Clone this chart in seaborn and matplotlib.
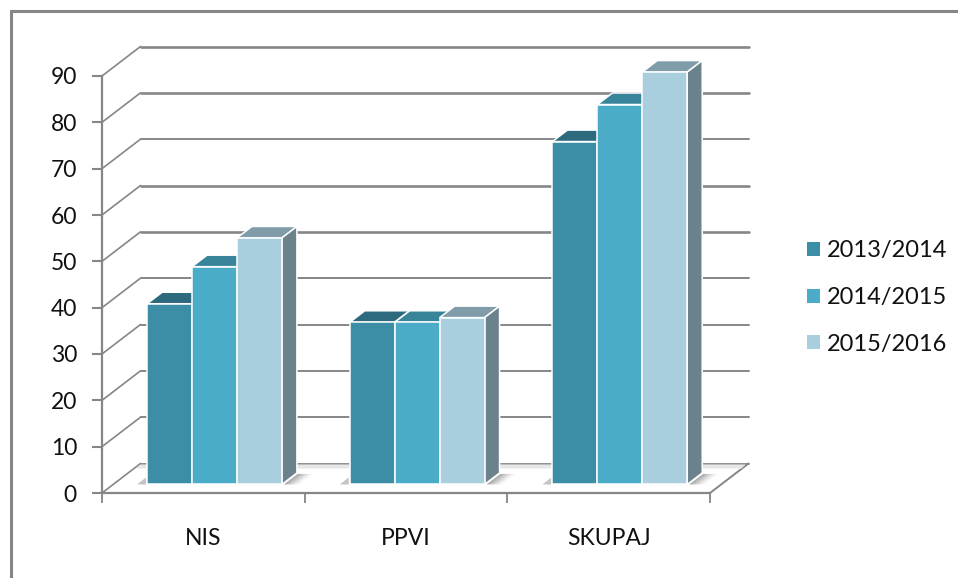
import matplotlib
matplotlib.use("Agg")
import matplotlib.pyplot as plt
from matplotlib.lines import Line2D
from matplotlib.patches import Polygon, Patch
from matplotlib.transforms import Affine2D, IdentityTransform
import pandas as pd
import seaborn as sns

categories = ["NIS", "PPVI", "SKUPAJ"]
seasons = ["2013/2014", "2014/2015", "2015/2016"]
values_2013 = [39, 35, 74]
values_2014 = [47, 35, 82]
values_2015 = [53.2, 36, 89]
front_colors = ["#3c8da6", "#4bacc8", "#a9cedd"]
top_colors = ["#2d6a7d", "#38849b", "#7f9ca8"]
side_colors = ["#2a6072", "#367a8f", "#6b818c"]
y_ticks = list(range(0, 100, 10))

GREY = "#868686"
W, H = 958, 578
DPI = 100
DEPTH = (38.5, 29.5)          # wall depth, pixels
BAR_START = 0.29              # fraction of depth where bars begin
BAR_DEPTH = 0.39              # fraction of depth bars occupy

sns.set_style("white")
plt.rcParams["font.family"] = ["Lato", "DejaVu Sans"]

df = pd.DataFrame({
    "cat": categories * 3,
    "season": sum([[s] * 3 for s in seasons], []),
    "val": values_2013 + values_2014 + values_2015,
})

fig = plt.figure(figsize=(W / DPI, H / DPI), dpi=DPI, facecolor="white")
ax = fig.add_axes([102 / W, (H - 493) / H, 608 / W, 417 / H])
ax.patch.set_alpha(0)

sns.barplot(data=df, x="cat", y="val", hue="season", hue_order=seasons,
            palette=front_colors, saturation=1, width=0.665, gap=0,
            edgecolor="white", linewidth=1.1, ax=ax, legend=False)
bars = sorted(ax.patches, key=lambda p: p.get_x())

ax.set_xlim(-0.5, 2.5)
ax.set_ylim(0, 90)
ax.set_xlabel("")
ax.set_ylabel("")
sns.despine(ax=ax)
for side in ("left", "bottom"):
    ax.spines[side].set_color(GREY)
    ax.spines[side].set_linewidth(1.6)

ax.set_yticks(y_ticks)
ax.tick_params(axis="y", length=7, width=1.5, color=GREY, pad=11, labelsize=16.5,
               left=True, labelcolor="#111111")
ax.set_xticks(range(3), categories)
ax.set_xticks([-0.5, 0.5, 1.5, 2.5], minor=True)
ax.tick_params(axis="x", which="major", length=0, pad=25, labelsize=16.5,
               labelcolor="#111111")
ax.tick_params(axis="x", which="minor", length=7, width=1.3, color=GREY,
               bottom=True)

# back wall gridlines and diagonal connectors
to_px = ax.transData.transform
ident = IdentityTransform()
dx, dy = DEPTH
for v in y_ticks:
    x0, y0 = to_px((-0.5, v))
    x1, y1 = to_px((2.5, v))
    lw = 1.9 if v in (60, 80, 90, 50) else 1.4
    ax.add_line(Line2D([x0 + dx, x1 + dx], [y0 + dy, y1 + dy], color=GREY,
                       lw=lw if v else 1.3, transform=ident, clip_on=False, zorder=1))
    ax.add_line(Line2D([x0, x0 + dx], [y0, y0 + dy], color=GREY,
                       lw=1.2, transform=ident, clip_on=False, zorder=1))
x0, y0 = to_px((-0.5, 0))
x1, y1 = to_px((2.5, 0))
ax.add_line(Line2D([x1, x1 + dx], [y1, y1 + dy], color=GREY, lw=1.4,
                   transform=ident, clip_on=False, zorder=1))
ax.add_patch(Polygon([(x0 + dx, y0 + dy - 1), (x1 + dx - 3, y1 + dy - 1),
                      (x1 + dx - 7, y1 + dy - 5), (x0 + dx - 4, y0 + dy - 5)],
                     closed=True, fc="#e6e6e6", ec="none", transform=ident,
                     clip_on=False, zorder=1.1))

# extrude every bar (front face shifted to the middle of the floor)
bx, by = dx * BAR_START, dy * BAR_START
ox, oy = dx * BAR_DEPTH, dy * BAR_DEPTH
shift = Affine2D().translate(bx, by)
n_group = len(seasons)
for i, bar in enumerate(bars):
    (l, b), (r, t) = to_px((bar.get_x(), 0)), to_px((bar.get_x() + bar.get_width(), bar.get_height()))
    l, r, b, t = l + bx, r + bx, b + by, t + by
    s = i % n_group
    z = 3 + i * 0.1
    bar.set_transform(ax.transData + shift)
    bar.set_clip_on(False)
    bar.set_zorder(z + 0.02)
    ax.add_patch(Polygon([(l, t), (l + ox, t + oy), (r + ox, t + oy), (r, t)], closed=True,
                         fc=top_colors[s], ec="white", lw=1.1, transform=ident,
                         clip_on=False, zorder=z))
    ax.add_patch(Polygon([(r, t), (r + ox, t + oy), (r + ox, b + oy), (r, b)], closed=True,
                         fc=side_colors[s], ec="white", lw=1.1, transform=ident,
                         clip_on=False, zorder=z + 0.01))
    # floor shadow, fading with distance from the group
    if s == n_group - 1:
        n = 10
        for k in range(n):
            f0, f1 = k / n, (k + 1) / n
            ax.add_patch(Polygon([(r + 2 + 16 * f0, b), (r + 16 + 16 * f0, b + oy - 1),
                                  (r + 16 + 16 * f1, b + oy - 1), (r + 2 + 16 * f1, b)],
                                 closed=True, fc="#808080", ec="none", alpha=0.75 * (1 - f0) ** 1.5,
                                 transform=ident, clip_on=False, zorder=2))
    if s == 0:
        ax.add_patch(Polygon([(l - 1, b), (l - 1, b + 7), (l - 10, b)], closed=True,
                             fc="#c4c4c4", ec="none", transform=ident, clip_on=False, zorder=2))

# outer chart frame (left and top only)
fig.add_artist(Line2D([10.5 / W, 10.5 / W, 1], [0, (H - 10.5) / H, (H - 10.5) / H],
                      transform=fig.transFigure, color=GREY, lw=2.2,
                      solid_joinstyle="miter"))

handles = [Patch(fc=c, ec="none") for c in front_colors]
fig.legend(handles, seasons, loc="center left",
           bbox_to_anchor=(798 / W, (H - 297.5) / H), bbox_transform=fig.transFigure,
           frameon=False, fontsize=17, labelcolor="#111111",
           handlelength=0.53, handleheight=0.53, handletextpad=0.3,
           labelspacing=1.09, borderpad=0, borderaxespad=0.4)

fig.savefig("out.png", dpi=DPI, facecolor="white")
